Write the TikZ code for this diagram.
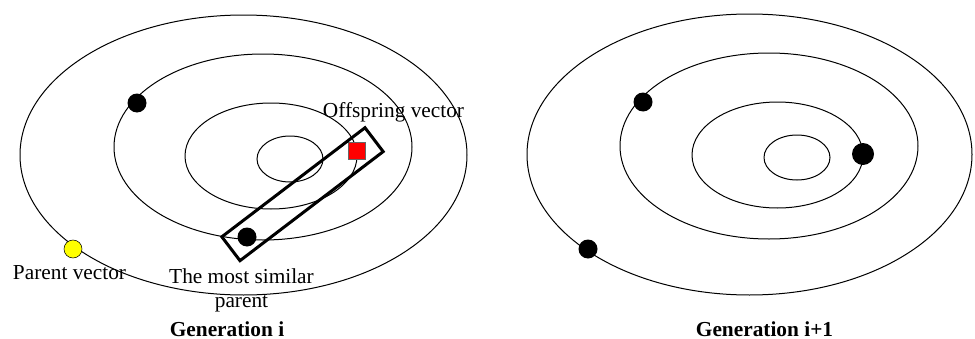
\documentclass[tikz,border=0pt]{standalone}
\usepackage{fontspec}
\setmainfont{Liberation Serif}
\usepackage{tikz}
\usetikzlibrary{positioning}
\definecolor{parentc}{HTML}{FFFF00}
\definecolor{offspring}{HTML}{FF0000}

\begin{document}
\begin{tikzpicture}[yscale=-1, x=0.75pt, y=0.75pt,
  contour/.style={line width=0.75pt},
  dot/.style={circle, fill=black, inner sep=0pt, minimum size=14.25pt},
  lbl/.style={font=\fontsize{16}{18}\selectfont, inner sep=0pt, anchor=base},
  gencap/.style={font=\fontsize{16}{18}\selectfont\bfseries, inner sep=0pt, anchor=base}]
\useasboundingbox (0,0) rectangle (975,339);
% generation i: contours
\draw[contour] (243.5,155) ellipse [x radius=223.5, y radius=140];
\draw[contour] (263,147) ellipse [x radius=149, y radius=93];
\draw[contour] (271,156) ellipse [x radius=86, y radius=53];
\draw[contour] (290,159) ellipse [x radius=33, y radius=23];
% generation i: individuals
\node[dot] (a1) at (137,103) {};
\node[dot] (a2) at (247,237) {};
\node[circle, draw=black, fill=parentc, inner sep=0pt, minimum size=13.5pt] (par) at (73,249) {};
\node[draw=black!60, fill=offspring, inner sep=0pt, minimum size=12.75pt] (off) at (356.5,150.5) {};
% band round parent and offspring
\node[draw, line width=2.25pt, rotate=37.3, inner sep=0pt, minimum width=135pt, minimum height=22.5pt] (band) at (302.5,194.2) {};
\node[lbl] (offl) at (393.5,117) {Offspring vector};
\node[lbl] (parl) at (69.5,279) {Parent vector};
\node[lbl, align=center] (siml) at (241.5,307) {The most similar\\ parent};
\node[gencap] (gen1) at (227,336) {Generation i};
% generation i+1: contours
\draw[contour] (749.5,154.5) ellipse [x radius=222.5, y radius=140.5];
\draw[contour] (769,146) ellipse [x radius=149, y radius=93];
\draw[contour] (777.5,155) ellipse [x radius=85.5, y radius=53];
\draw[contour] (797,157.5) ellipse [x radius=33, y radius=22.5];
% generation i+1: individuals
\node[dot] (b1) at (643,102) {};
\node[dot, minimum size=16.5pt] (b2) at (863,154) {};
\node[dot] (b3) at (588,249) {};
\node[gencap] (gen2) at (764.5,336) {Generation i+1};
\end{tikzpicture}
\end{document}
